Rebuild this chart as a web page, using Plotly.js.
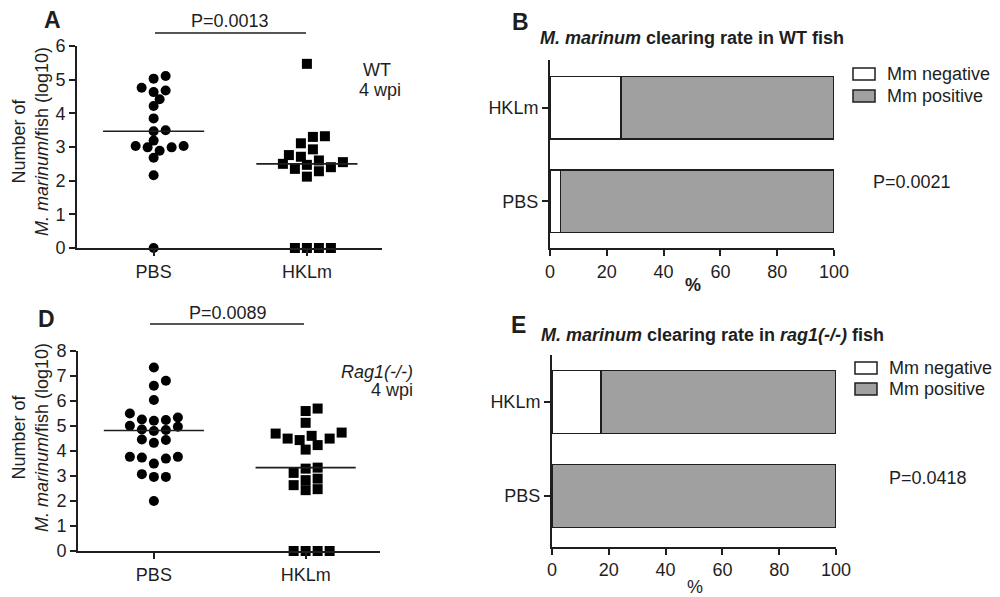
<!DOCTYPE html>
<html><head><meta charset="utf-8">
<script src="https://cdn.plot.ly/plotly-3.0.1.min.js"></script>
<style>html,body{margin:0;padding:0;background:#fff}#chart{width:1000px;height:597px}</style>
</head><body><div id="chart"></div>
<script>
// ---------- data ----------
const groups = ['PBS', 'HKLm'];
const wtPBS   = [5.03,5.11,4.68,4.63,4.76,4.42,4.22,3.85,3.47,3.50,2.99,3.03,3.03,3.19,2.99,2.89,2.68,2.16,0];
const wtHKLm  = [5.47,3.30,3.11,3.32,2.93,2.71,2.76,2.55,2.35,2.50,2.28,2.47,2.60,2.40,2.12,0,0,0,0];
const ragPBS  = [7.33,6.80,6.60,6.03,5.49,5.33,5.23,5.00,5.20,5.25,4.79,4.85,4.96,4.83,4.43,4.32,4.45,3.76,3.76,3.69,3.73,3.49,2.96,2.96,3.07,2.00];
const ragHKLm = [5.59,5.69,5.12,4.49,4.73,4.60,4.69,4.43,4.49,4.23,4.05,3.33,3.12,3.29,2.83,2.89,2.47,2.43,2.63,0,0,0,0];
const barCats = ['PBS', 'HKLm'];
const seriesNames = ['Mm negative', 'Mm positive'];
const wtNegative  = [3.7, 25.0];
const wtPositive  = [96.3, 75.0];
const ragNegative = [0, 17.2];
const ragPositive = [100, 82.8];
const yTicksA = [0,1,2,3,4,5,6];
const yTicksD = [0,1,2,3,4,5,6,7,8];
const xTicksPct = [0,20,40,60,80,100];

// ---------- layout geometry ----------
const W = 1000, H = 597;
const px = x => x / W, py = y => 1 - y / H;
const FONT = 'Liberation Sans, Arial, sans-serif';
const INK = '#1e1e1e';
const NEG_COLOR = '#ffffff', POS_COLOR = '#a0a0a0';
const domA = {x:[px(77), px(382)], y:[py(248), py(46)], yr:[0,6]};
const domD = {x:[px(78), px(380)], y:[py(551), py(350.7)], yr:[0,8]};
const XR = [0.5, 2.49];

function median(a){const s=[...a].sort((p,q)=>p-q);const n=s.length;return n%2?s[(n-1)/2]:(s[n/2-1]+s[n/2])/2;}

// simple beeswarm in pixel space -> offsets in data units
function swarm(values, dom, stepPx, minDist){
  const pxX = (dom.x[1]-dom.x[0])*W/(XR[1]-XR[0]);
  const pxY = (dom.y[1]-dom.y[0])*H/(dom.yr[1]-dom.yr[0]);
  const idx = values.map((v,i)=>i).sort((a,b)=>values[a]-values[b]);
  const placed=[]; const off=new Array(values.length).fill(0);
  idx.forEach(i=>{
    const yp=values[i]*pxY;
    for(let k=0;k<200;k++){
      const m = k===0?0:(k%2?Math.ceil(k/2):-Math.ceil(k/2));
      const xp=m*stepPx;
      if(placed.every(p=>Math.hypot(p[0]-xp,p[1]-yp)>=minDist)){placed.push([xp,yp]);off[i]=xp/pxX;break;}
    }
  });
  return off;
}

const traces = [];
function dots(vals, center, dom, xa, ya, symbol, size, minDist){
  const off = swarm(vals, dom, 6, minDist);
  traces.push({type:'scatter', mode:'markers', x: vals.map((v,i)=>center+off[i]), y: vals,
    xaxis:xa, yaxis:ya, cliponaxis:false, showlegend:false, hoverinfo:'y',
    marker:{symbol:symbol, size:size, color:'#000', line:{width:0}}});
  const m = median(vals);
  traces.push({type:'scatter', mode:'lines', x:[center-0.33, center+0.33], y:[m,m],
    xaxis:xa, yaxis:ya, showlegend:false, hoverinfo:'skip', line:{color:INK, width:1.6}});
}
dots(wtPBS, 1, domA, 'x', 'y', 'circle', 10, 9);
dots(wtHKLm, 2, domA, 'x', 'y', 'square', 10, 10);
dots(ragPBS, 1, domD, 'x3', 'y3', 'circle', 10, 9);
dots(ragHKLm, 2, domD, 'x3', 'y3', 'square', 10, 10);

function bars(neg, pos, xa, ya){
  traces.push({type:'bar', orientation:'h', name:seriesNames[0], x:neg, y:barCats, xaxis:xa, yaxis:ya, showlegend:false,
    width:0.67, marker:{color:NEG_COLOR, line:{color:INK, width:1.5}}});
  traces.push({type:'bar', orientation:'h', name:seriesNames[1], x:pos, y:barCats, xaxis:xa, yaxis:ya, showlegend:false,
    width:0.67, marker:{color:POS_COLOR, line:{color:INK, width:1.5}}});
}
bars(wtNegative, wtPositive, 'x2', 'y2');
bars(ragNegative, ragPositive, 'x4', 'y4');

const axBase = {showline:true, linewidth:2, linecolor:INK, ticks:'outside', ticklen:6, tickwidth:2, tickcolor:INK,
  showgrid:false, zeroline:false, fixedrange:true, tickfont:{family:FONT, size:18, color:INK}};

const layout = {
  width:W, height:H, margin:{l:0,r:0,t:0,b:0}, paper_bgcolor:'#fff', plot_bgcolor:'rgba(0,0,0,0)',
  font:{family:FONT, size:18, color:INK}, barmode:'stack', showlegend:false,
  xaxis: Object.assign({}, axBase, {domain:domA.x, range:XR, tickvals:[1,2], ticktext:groups, anchor:'y'}),
  yaxis: Object.assign({}, axBase, {domain:domA.y, range:domA.yr, tickvals:yTicksA, anchor:'x'}),
  xaxis3: Object.assign({}, axBase, {domain:domD.x, range:XR, tickvals:[1,2], ticktext:groups, anchor:'y3'}),
  yaxis3: Object.assign({}, axBase, {domain:domD.y, range:domD.yr, tickvals:yTicksD, anchor:'x3'}),
  xaxis2: Object.assign({}, axBase, {domain:[px(550), px(834)], range:[0,100], tickvals:xTicksPct, anchor:'y2'}),
  yaxis2: Object.assign({}, axBase, {domain:[py(248), py(60)], type:'category', categoryorder:'array', categoryarray:barCats, range:[-0.5,1.51], anchor:'x2'}),
  xaxis4: Object.assign({}, axBase, {domain:[px(552), px(836)], range:[0,100], tickvals:xTicksPct, anchor:'y4'}),
  yaxis4: Object.assign({}, axBase, {domain:[py(546.7), py(355)], type:'category', categoryorder:'array', categoryarray:barCats, range:[-0.54,1.5], anchor:'x4'}),
  shapes: [
    {type:'line', xref:'paper', yref:'paper', x0:px(155), x1:px(306), y0:py(33), y1:py(33), line:{color:INK, width:1.6}},
    {type:'line', xref:'paper', yref:'paper', x0:px(150), x1:px(304), y0:py(324), y1:py(324), line:{color:INK, width:1.6}}
  ],
  annotations: []
};
function ann(text, x, y, opts){
  layout.annotations.push(Object.assign({text:text, xref:'paper', yref:'paper', x:px(x), y:py(y), xanchor:'center', yanchor:'middle',
    showarrow:false, font:{family:FONT, size:18, color:INK}}, opts||{}));
}
// legend key (box + label) for the bar panels
function legendKey(left, rowCenters){
  [NEG_COLOR, POS_COLOR].forEach((c, i)=>{
    const yc = rowCenters[i];
    layout.shapes.push({type:'rect', xref:'paper', yref:'paper', x0:px(left), x1:px(left+22), y0:py(yc+6), y1:py(yc-6),
      fillcolor:c, line:{color:INK, width:1.5}});
    ann(seriesNames[i], left+32, yc, {xanchor:'left'});
  });
}
legendKey(853, [74, 96]);
legendKey(855, [368, 389]);

const big = {font:{family:FONT, size:23, color:INK}};
ann('<b>A</b>', 52, 20, big);
ann('<b>D</b>', 46, 319, big);
ann('<b>B</b>', 520, 22, big);
ann('<b>E</b>', 518, 325, big);
ann('P=0.0013', 230, 21);
ann('P=0.0089', 228, 313);
ann('WT', 377, 70);
ann('4 wpi', 380, 90);
ann('<i>Rag1(-/-)</i>', 415, 372, {xanchor:'right'});
ann('4 wpi', 415, 390, {xanchor:'right'});
ann('Number of<br><i>M. marinum</i>/fish (log10)', 30, 142, {textangle:-90});
ann('Number of<br><i>M. marinum</i>/fish (log10)', 30, 438, {textangle:-90});
ann('<b><i>M. marinum</i> clearing rate in WT fish</b>', 538, 38, {xanchor:'left'});
ann('<b><i>M. marinum</i> clearing rate in <i>rag1(-/-)</i> fish</b>', 539, 335, {xanchor:'left'});
ann('P=0.0021', 912, 182);
ann('P=0.0418', 928, 478);
ann('<b>%</b>', 693, 285);
ann('%', 695, 587);

Plotly.newPlot('chart', traces, layout, {displayModeBar:false, staticPlot:true});
</script></body></html>
